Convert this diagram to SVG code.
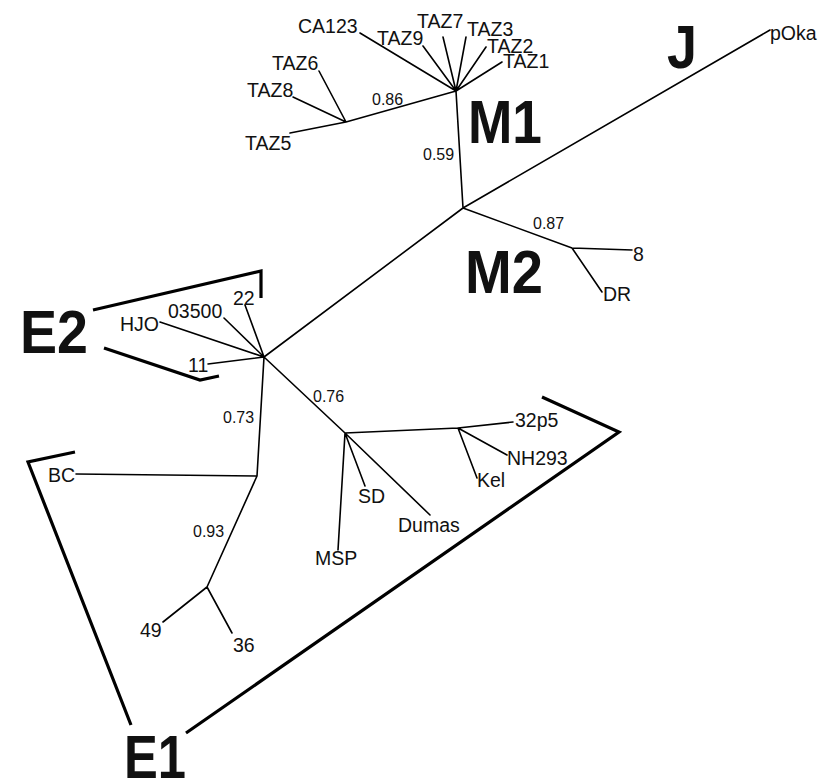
<svg xmlns="http://www.w3.org/2000/svg" width="821" height="781" viewBox="0 0 821 781">
<style>
.br{fill:none;stroke:#000;stroke-width:1.6;stroke-linecap:round;stroke-linejoin:round}
.bk{fill:none;stroke:#000;stroke-width:3.2;stroke-linejoin:miter}
text{font-family:"Liberation Sans",Arial,Helvetica,sans-serif;fill:#111}
.lf{font-size:19.5px}
.bs{font-size:16px}
.cl{font-size:61px;font-weight:bold}
</style>
<rect width="821" height="781" fill="#fff"/>
<g id="connectors">
<path class="br" d="M463,208 L456,91 M463,208 L770,30 M463,208 L572,248 L632,250 M572,248 L602,292 M456,91 L346,122 L290,133 M346,122 L293,97 M346,122 L319,71 M456,91 L360,33 M456,91 L423,46 M456,91 L443,37 M456,91 L466,37 M456,91 L486,47 M456,91 L502,62 M463,208 L264,357 L245,305 M264,357 L224,318 M264,357 L160,322 M264,357 L208,364 M264,357 L345,433 L458,428 L513,422 M458,428 L507,455 M458,428 L477,478 M345,433 L365,486 M345,433 L430,515 M345,433 L338,550 M264,357 L257,476 L76,474 M257,476 L207,587 L163,622 M207,587 L232,633"/>
</g>
<g id="brackets">
<polyline class="bk" points="93,310 261,271 261,298"/>
<polyline class="bk" points="104,348 200,380 219,376"/>
<polyline class="bk" points="75,452 28,462 131,725"/>
<polyline class="bk" points="186,733 619,432 542,397"/>
</g>
<g id="node-TAZ5"><text class="lf" x="245" y="150">TAZ5</text></g>
<g id="node-TAZ8"><text class="lf" x="247" y="97">TAZ8</text></g>
<g id="node-TAZ6"><text class="lf" x="272" y="70">TAZ6</text></g>
<g id="node-CA123"><text class="lf" x="298" y="33">CA123</text></g>
<g id="node-TAZ9"><text class="lf" x="377" y="45">TAZ9</text></g>
<g id="node-TAZ7"><text class="lf" x="417" y="28">TAZ7</text></g>
<g id="node-TAZ3"><text class="lf" x="467" y="36">TAZ3</text></g>
<g id="node-TAZ2"><text class="lf" x="487" y="53">TAZ2</text></g>
<g id="node-TAZ1"><text class="lf" x="503" y="68">TAZ1</text></g>
<g id="node-pOka"><text class="lf" x="770" y="40">pOka</text></g>
<g id="node-8"><text class="lf" x="633" y="261">8</text></g>
<g id="node-DR"><text class="lf" x="603" y="301">DR</text></g>
<g id="node-22"><text class="lf" x="233" y="305">22</text></g>
<g id="node-03500"><text class="lf" x="168" y="318">03500</text></g>
<g id="node-HJO"><text class="lf" x="120" y="331">HJO</text></g>
<g id="node-11"><text class="lf" x="188" y="372">11</text></g>
<g id="node-BC"><text class="lf" x="48" y="482">BC</text></g>
<g id="node-49"><text class="lf" x="140" y="637">49</text></g>
<g id="node-36"><text class="lf" x="233" y="652">36</text></g>
<g id="node-MSP"><text class="lf" x="315" y="565">MSP</text></g>
<g id="node-SD"><text class="lf" x="358" y="503">SD</text></g>
<g id="node-Dumas"><text class="lf" x="398" y="532">Dumas</text></g>
<g id="node-Kel"><text class="lf" x="477" y="487">Kel</text></g>
<g id="node-NH293"><text class="lf" x="507" y="465">NH293</text></g>
<g id="node-32p5"><text class="lf" x="515" y="427">32p5</text></g>
<g id="support">
<text class="bs" x="372" y="105">0.86</text>
<text class="bs" x="423" y="160">0.59</text>
<text class="bs" x="533" y="229">0.87</text>
<text class="bs" x="223" y="423">0.73</text>
<text class="bs" x="313" y="402">0.76</text>
<text class="bs" x="193" y="537">0.93</text>
</g>
<g id="clade-J"><text class="cl" x="667" y="68" textLength="30" lengthAdjust="spacingAndGlyphs">J</text></g>
<g id="clade-M1"><text class="cl" x="468" y="143" textLength="74" lengthAdjust="spacingAndGlyphs">M1</text></g>
<g id="clade-M2"><text class="cl" x="465" y="293" textLength="78" lengthAdjust="spacingAndGlyphs">M2</text></g>
<g id="clade-E2"><text class="cl" x="20" y="353" textLength="68" lengthAdjust="spacingAndGlyphs">E2</text></g>
<g id="clade-E1"><text class="cl" x="124" y="778" textLength="62" lengthAdjust="spacingAndGlyphs">E1</text></g>
</svg>
